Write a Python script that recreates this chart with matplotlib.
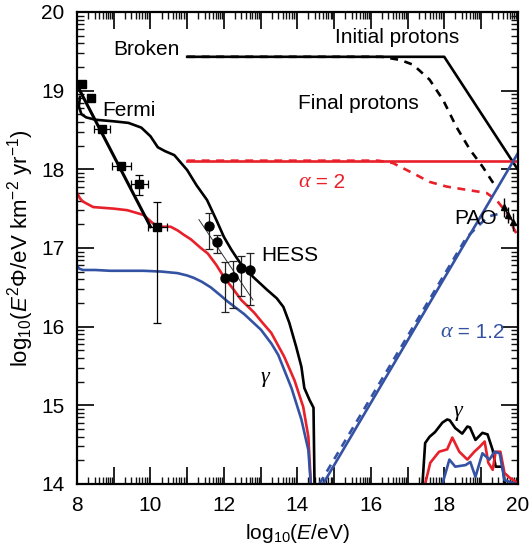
import numpy as np
import matplotlib
matplotlib.use("Agg")
import matplotlib.pyplot as plt

plt.rcParams['font.family'] = ['Liberation Sans', 'DejaVu Sans']
plt.rcParams['mathtext.fontset'] = 'custom'
plt.rcParams['mathtext.rm'] = 'Liberation Sans'
plt.rcParams['mathtext.it'] = 'Liberation Sans:italic'
plt.rcParams['axes.linewidth'] = 1.6
for a in ("xtick", "ytick"):
    plt.rcParams[a + ".direction"] = "in"
    plt.rcParams[a + ".major.size"] = 12
    plt.rcParams[a + ".minor.size"] = 5
    plt.rcParams[a + ".major.width"] = 1.3
    plt.rcParams[a + ".minor.width"] = 1.0
    plt.rcParams[a + ".major.pad"] = 9
    plt.rcParams[a + ".labelsize"] = 15
    plt.rcParams[a + ".color"] = "#111111"
    plt.rcParams[a + ".labelcolor"] = "black"
plt.rcParams["xtick.top"] = True
plt.rcParams["ytick.right"] = True

RED = "#e8202a"
BLUE = "#3452a4"

# ===== data =====
# gamma spectra (broken / alpha=2 / alpha=1.2), low-energy part
gam_black_x = [8.08, 8.05, 8.12, 8.25, 8.5, 9.0, 9.4, 9.75, 10.0, 10.2, 10.4, 10.65, 11.0, 11.25,
               11.54, 11.8, 12.0, 12.2, 12.44, 12.8, 13.17, 13.44, 13.62, 13.78, 13.97, 14.11,
               14.19, 14.33, 14.44, 14.47]
gam_black_y = [18.92, 18.80, 18.70, 18.66, 18.63, 18.61, 18.59, 18.53, 18.42, 18.28, 18.23, 18.18,
               17.99, 17.80, 17.61, 17.35, 17.14, 16.98, 16.81, 16.63, 16.47, 16.36, 16.25, 16.05,
               15.74, 15.49, 15.22, 15.07, 14.97, 13.9]
gam_red_x = [8.0, 8.08, 8.16, 8.44, 9.0, 9.37, 9.81, 10.05, 10.19, 10.55, 10.75, 10.9, 11.1, 11.37,
             11.56, 11.8, 12.0, 12.25, 12.47, 12.82, 13.05, 13.29, 13.64, 13.92, 14.16, 14.3, 14.38]
gam_red_y = [17.70, 17.63, 17.59, 17.52, 17.50, 17.48, 17.42, 17.32, 17.27, 17.27, 17.22, 17.17,
             17.11, 17.00, 16.93, 16.78, 16.63, 16.48, 16.34, 16.18, 16.05, 15.92, 15.62, 15.32,
             14.98, 14.60, 13.9]
gam_blue_x = [8.0, 8.05, 8.16, 8.5, 8.9, 9.81, 10.3, 10.74, 11.0, 11.18, 11.4, 11.64, 11.9, 12.1,
              12.55, 13.01, 13.3, 13.48, 13.84, 14.11, 14.3, 14.38]
gam_blue_y = [16.78, 16.74, 16.72, 16.72, 16.71, 16.71, 16.70, 16.68, 16.65, 16.62, 16.57, 16.50,
              16.40, 16.32, 16.16, 15.96, 15.78, 15.64, 15.22, 14.82, 14.43, 13.9]

# gamma bumps at high energy
bump_black_x = [17.4, 17.48, 17.6, 17.75, 17.95, 18.08, 18.15, 18.3, 18.49, 18.63, 18.7, 18.85,
                19.04, 19.18, 19.32, 19.4, 19.59, 19.67]
bump_black_y = [13.95, 14.52, 14.60, 14.66, 14.78, 14.82, 14.81, 14.71, 14.64, 14.73, 14.72, 14.56,
                14.65, 14.63, 14.43, 14.22, 14.22, 13.95]
bump_red_x = [17.48, 17.62, 17.86, 18.08, 18.22, 18.41, 18.63, 18.82, 18.96, 19.1, 19.2, 19.32,
              19.4, 19.53, 19.64, 19.78, 19.95]
bump_red_y = [14.0, 14.27, 14.41, 14.44, 14.59, 14.41, 14.31, 14.41, 14.47, 14.54, 14.27, 14.18,
              14.41, 14.41, 14.14, 14.08, 14.03]
bump_blue_x = [17.95, 18.14, 18.3, 18.58, 18.71, 18.85, 19.04, 19.23, 19.37, 19.51, 19.64, 19.95]
bump_blue_y = [14.0, 14.31, 14.22, 14.24, 14.28, 14.09, 14.39, 14.31, 14.41, 14.39, 14.05, 14.0]

# protons
init_black_x = [11.0, 18.0, 20.0]
init_black_y = [19.43, 19.43, 18.0]
final_black_x = [11.0, 16.3, 16.8, 17.15, 17.6, 17.97, 18.33, 18.7, 19.05, 19.3, 19.45]
final_black_y = [19.43, 19.43, 19.39, 19.33, 19.14, 18.88, 18.54, 18.25, 18.03, 17.85, 17.75]
init_red_x = [11.0, 20.0]
init_red_y = [18.11, 18.11]
final_red_x = [11.0, 16.2, 16.6, 17.15, 17.6, 18.07, 18.6, 19.15, 19.42, 19.7, 19.87, 20.0]
final_red_y = [18.11, 18.11, 18.08, 17.95, 17.84, 17.78, 17.74, 17.70, 17.61, 17.45, 17.27, 17.15]
init_blue_x = [14.7, 20.0]
init_blue_y = [14.0, 18.2]
final_blue_x = [14.6, 18.6, 18.97, 19.2, 19.45]
final_blue_y = [14.0, 17.13, 17.3, 17.4, 17.43]
low_red_x = [14.6, 17.4]
low_red_y = [14.0, 14.0]

# Fermi
fermi_x = [8.14, 8.38, 8.68, 9.21, 9.70, 10.19]
fermi_y = [19.09, 18.91, 18.51, 18.04, 17.81, 17.27]
fermi_xerr = [0.08, 0.08, 0.23, 0.26, 0.24, 0.25]
fermi_ylo = [0.03, 0.03, 0.04, 0.04, 0.14, 1.22]
fermi_yhi = [0.03, 0.03, 0.04, 0.04, 0.12, 0.32]
fermi_fit_x = [8.0, 10.0]
fermi_fit_y = [19.07, 17.27]

# HESS
hess_x = [11.59, 11.81, 12.03, 12.25, 12.47, 12.71]
hess_y = [17.28, 17.08, 16.62, 16.63, 16.75, 16.72]
hess_lo = [16.99, 16.94, 16.18, 16.24, 16.39, 16.28]
hess_hi = [17.45, 17.17, 16.82, 16.84, 16.90, 16.94]
hess_fit_x = [11.32, 12.79]
hess_fit_y = [17.36, 16.34]

# PAO
pao_x = [19.62, 19.75, 19.88]
pao_y = [17.52, 17.42, 17.33]
pao_err = [0.12, 0.1, 0.12]

# axis ticks
x_major = list(range(8, 21))
x_labels = [str(v) if v % 2 == 0 else "" for v in x_major]
y_major = list(range(14, 21))
y_labels = [str(v) for v in y_major]


fig = plt.figure(figsize=(5.29, 5.54), dpi=100)
ax = fig.add_axes([0.1456, 0.1264, 0.833, 0.852])

lw = 1.9
ax.plot(gam_black_x, gam_black_y, color="black", lw=lw)
ax.plot(gam_red_x, gam_red_y, color=RED, lw=lw)
ax.plot(gam_blue_x, gam_blue_y, color=BLUE, lw=lw)
ax.plot(bump_black_x, bump_black_y, color="black", lw=lw)
ax.plot(bump_red_x, bump_red_y, color=RED, lw=lw)
ax.plot(bump_blue_x, bump_blue_y, color=BLUE, lw=lw)
ax.plot(low_red_x, low_red_y, color=RED, lw=lw, ls=(0, (1, 8)))

ax.plot(init_black_x, init_black_y, color="black", lw=lw)
ax.plot(final_black_x, final_black_y, color="black", lw=lw, ls=(0, (3, 2.5)))
ax.plot(init_red_x, init_red_y, color=RED, lw=lw)
ax.plot(final_red_x, final_red_y, color=RED, lw=lw, ls=(0, (3, 2.5)))
ax.plot(final_blue_x, final_blue_y, color=BLUE, lw=lw, ls=(0, (3, 2.5)))
ax.plot(init_blue_x, init_blue_y, color=BLUE, lw=lw)

# data
ax.plot(fermi_fit_x, fermi_fit_y, color="black", lw=2.2)
ax.errorbar(fermi_x, fermi_y, xerr=fermi_xerr, yerr=[fermi_ylo, fermi_yhi], fmt="s",
            color="black", ms=6, elinewidth=0.9, capsize=3, capthick=0.9)
ax.plot(hess_fit_x, hess_fit_y, color="#333333", lw=0.7)
hess_yerr = [np.array(hess_y) - np.array(hess_lo), np.array(hess_hi) - np.array(hess_y)]
ax.errorbar(hess_x, hess_y, yerr=hess_yerr, fmt="o", color="black", ecolor="#222222",
            ms=6.5, elinewidth=0.9, capsize=3, capthick=0.9)
ax.errorbar(pao_x, pao_y, yerr=pao_err, fmt="^-", color="black", ms=4, lw=1.2,
            elinewidth=1.0, capsize=0)

# labels in plot
fs = 15
ax.text(9.9, 19.52, "Broken", fontsize=fs, ha="center", va="center")
ax.text(16.71, 19.67, "Initial protons", fontsize=fs, ha="center", va="center")
ax.text(15.65, 18.84, "Final protons", fontsize=fs, ha="center", va="center")
ax.text(8.7, 18.75, "Fermi", fontsize=fs, ha="left", va="center")
ax.text(13.8, 16.91, "HESS", fontsize=fs, ha="center", va="center")
ax.text(18.86, 17.38, "PAO", fontsize=fs, ha="center", va="center")


def alpha_label(x, y, val, color):
    ax.text(x, y, "\u03b1", fontsize=fs + 1, family="Liberation Serif", style="italic",
            color=color, ha="right", va="center")
    ax.annotate(" = " + val, (x, y), fontsize=fs, color=color, ha="left", va="center",
                annotation_clip=False)


alpha_label(14.35, 17.83, "2", RED)
alpha_label(18.2, 15.92, "1.2", BLUE)
ax.text(13.12, 15.35, "\u03b3", fontsize=fs + 1, family="Liberation Serif", style="italic",
        ha="center", va="center")
ax.text(18.37, 14.92, "\u03b3", fontsize=fs + 1, family="Liberation Serif", style="italic",
        ha="center", va="center")

# axes: integer major ticks, log-style minor ticks inside each unit
logs = np.log10(np.arange(2, 10))
ax.set_xticks(x_major, labels=x_labels)
ax.set_yticks(y_major, labels=y_labels)
ax.set_xticks([n + l for n in range(8, 20) for l in logs], minor=True)
ax.set_yticks([n + l for n in range(14, 20) for l in logs], minor=True)
ax.set_xlim(8, 20)
ax.set_ylim(14, 20)

ax.set_xlabel(r"log$_{10}$($E$/eV)", fontsize=fs, labelpad=5)
ax.set_ylabel(r"log$_{10}$($E^2\Phi$/eV km$^{-2}$ yr$^{-1}$)", fontsize=16, labelpad=4)

fig.savefig("out.png", dpi=100)
